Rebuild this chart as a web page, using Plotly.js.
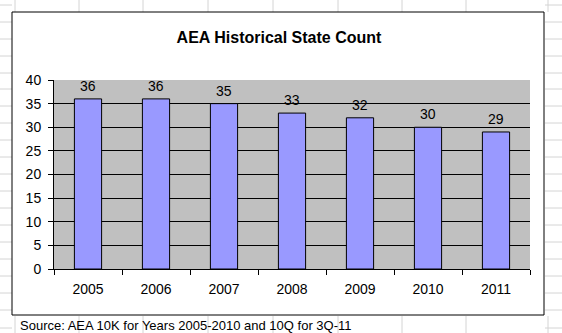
<!DOCTYPE html>
<html>
<head>
<meta charset="utf-8">
<script src="https://cdn.plot.ly/plotly-3.0.1.min.js"></script>
<style>html,body{margin:0;padding:0;background:#fff;}#chart{width:562px;height:333px;}</style>
</head>
<body>
<div id="chart"></div>
<script>
const years = ["2005", "2006", "2007", "2008", "2009", "2010", "2011"];
const stateCounts = [36, 36, 35, 33, 32, 30, 29];
const chartTitle = "AEA Historical State Count";
const sourceNote = "Source: AEA 10K for Years 2005-2010 and 10Q for 3Q-11";

const W = 562, H = 333;
const L = 54, R = 530, T = 80, B = 269;
const px = x => (x - L) / (R - L);
const py = y => (B - y) / (B - T);
const FONT = "Liberation Sans, Arial, sans-serif";

const shapes = [];
const gridCol = "#d4d4d4";
// spreadsheet grid outside the chart frame
const colLines = [15, 79, 143, 208, 273, 338, 402, 466, 548];
const rowLines = [5, 22, 39, 56, 73, 89, 106, 123, 140, 157, 174, 191, 208, 225, 242, 259, 276, 293, 310, 328];
colLines.forEach(x => {
  shapes.push({type: "line", xref: "paper", yref: "paper", x0: px(x), x1: px(x), y0: py(0), y1: py(12), line: {color: gridCol, width: 1}});
  shapes.push({type: "line", xref: "paper", yref: "paper", x0: px(x), x1: px(x), y0: py(316), y1: py(333), line: {color: gridCol, width: 1}});
});
rowLines.forEach(y => {
  shapes.push({type: "line", xref: "paper", yref: "paper", x0: px(0), x1: px(12), y0: py(y), y1: py(y), line: {color: gridCol, width: 1}});
  shapes.push({type: "line", xref: "paper", yref: "paper", x0: px(545), x1: px(562), y0: py(y), y1: py(y), line: {color: gridCol, width: 1}});
});
// chart frame
shapes.push({type: "rect", xref: "paper", yref: "paper", x0: px(12), x1: px(544), y0: py(12), y1: py(315), line: {color: "#000", width: 1}});

const trace = {
  type: "bar",
  x: years,
  y: stateCounts,
  marker: {color: "#9999FF", line: {color: "#000", width: 1}},
  hoverinfo: "none"
};

// data labels: category axis positions are the category indices
const annotations = years.map((yr, i) => ({
  x: i, y: stateCounts[i], xref: "x", yref: "y",
  text: String(stateCounts[i]),
  showarrow: false, xanchor: "center", yanchor: "bottom", yshift: 3,
  font: {family: FONT, size: 14, color: "#000"}
}));
annotations.push({
  text: sourceNote,
  xref: "paper", yref: "paper",
  x: px(18), y: py(325),
  xanchor: "left", yanchor: "middle",
  showarrow: false,
  font: {family: FONT, size: 13, color: "#000"}
});

const layout = {
  width: W, height: H,
  margin: {l: L, r: W - R, t: T, b: H - B, pad: 0},
  paper_bgcolor: "#fff",
  plot_bgcolor: "#C0C0C0",
  showlegend: false,
  bargap: 0.6,
  font: {family: FONT, size: 14, color: "#000"},
  title: {
    text: "<b>" + chartTitle + "</b>",
    font: {family: FONT, size: 16, color: "#000"},
    xref: "container", yref: "container",
    x: 279 / W, xanchor: "center",
    y: 1 - 37 / H, yanchor: "middle"
  },
  xaxis: {
    type: "category",
    categoryarray: years, categoryorder: "array",
    range: [-0.5, years.length - 0.5],
    showline: true, linecolor: "#000", linewidth: 1,
    ticks: "outside", tickson: "boundaries", ticklen: 5, tickcolor: "#000",
    showgrid: false, zeroline: false,
    tickfont: {size: 14},
    ticklabelstandoff: 7
  },
  yaxis: {
    range: [0, 40], dtick: 5, tick0: 0,
    showline: true, linecolor: "#000", linewidth: 1,
    ticks: "outside", ticklen: 5, tickcolor: "#000",
    showgrid: true, gridcolor: "#000", gridwidth: 1,
    zeroline: false,
    tickfont: {size: 14},
    ticklabelstandoff: 4
  },
  shapes: shapes,
  annotations: annotations
};

Plotly.newPlot("chart", [trace], layout, {displayModeBar: false, staticPlot: true});
</script>
</body>
</html>
